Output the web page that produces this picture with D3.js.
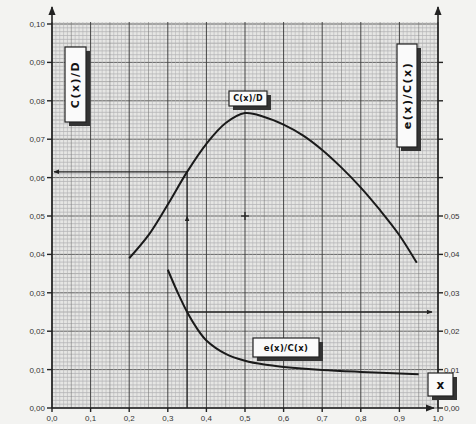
<!DOCTYPE html>
<html>
<head>
<meta charset="utf-8">
<script src="https://cdn.jsdelivr.net/npm/d3@7"></script>
<style>
  body { margin: 0; background: #f3f3f1; }
  svg { display: block; }
  .tick-label { font-family: "Liberation Sans", Arial, sans-serif; font-size: 8px; fill: #333; }
  .box-label { font-family: "DejaVu Sans", sans-serif; font-weight: bold; fill: #111; }
</style>
</head>
<body>
<div id="chart"></div>
<script>
// values
var xTicks = [0, 0.1, 0.2, 0.3, 0.4, 0.5, 0.6, 0.7, 0.8, 0.9, 1.0];
var leftTicks = [0, 0.01, 0.02, 0.03, 0.04, 0.05, 0.06, 0.07, 0.08, 0.09, 0.10];
var rightTicks = [0, 0.01, 0.02, 0.03, 0.04, 0.05, 0.06, 0.07, 0.08, 0.09];
var rightLabelled = [0, 0.01, 0.02, 0.03, 0.04, 0.05];

// C(x)/D curve
var cdX = [0.2, 0.25, 0.3, 0.35, 0.4, 0.45, 0.5, 0.55, 0.6, 0.65, 0.7, 0.75, 0.8, 0.85, 0.9, 0.945];
var cdY = [0.039, 0.045, 0.053, 0.0615, 0.0688, 0.0742, 0.0768, 0.0758, 0.0738, 0.071, 0.0672, 0.0626, 0.0574, 0.0515, 0.045, 0.0378];

// e(x)/C(x) curve
var ecX = [0.3, 0.325, 0.35, 0.375, 0.4, 0.45, 0.5, 0.55, 0.6, 0.7, 0.8, 0.9, 0.95];
var ecY = [0.036, 0.0302, 0.025, 0.0208, 0.0176, 0.0141, 0.0123, 0.0113, 0.0107, 0.0099, 0.0094, 0.009, 0.0088];

// construction lines: read-off at x = 0.35
var readX = 0.35;
var readCD = 0.0615;
var readEC = 0.025;

var width = 476, height = 424;
var padL = 52, padR = 438, padT = 24, padB = 408;

var x = d3.scaleLinear().domain([0, 1]).range([padL, padR]);
var y = d3.scaleLinear().domain([0, 0.1]).range([padB, padT]);

var svg = d3.select("#chart").append("svg")
    .attr("width", width).attr("height", height);

var defs = svg.append("defs");
defs.append("marker").attr("id", "arr")
    .attr("viewBox", "0 0 10 10").attr("refX", 9).attr("refY", 5)
    .attr("markerWidth", 6).attr("markerHeight", 6).attr("orient", "auto")
    .attr("markerUnits", "userSpaceOnUse")
  .append("path").attr("d", "M0,1 L10,5 L0,9 Z").attr("fill", "#222");
defs.append("marker").attr("id", "arrBig")
    .attr("viewBox", "0 0 10 10").attr("refX", 9).attr("refY", 5)
    .attr("markerWidth", 9).attr("markerHeight", 9).attr("orient", "auto")
    .attr("markerUnits", "userSpaceOnUse")
  .append("path").attr("d", "M0,1 L10,5 L0,9 Z").attr("fill", "#222");

// graph paper
var paper = svg.append("g");
paper.append("rect")
    .attr("x", padL).attr("y", padT - 2)
    .attr("width", padR - padL).attr("height", padB - padT + 2)
    .attr("fill", "#e6e6e4");

// horizontal rulings, every 0.001
d3.range(0, 101).forEach(function(i) {
  var v = i / 1000;
  var strong = i % 10 === 0, mid = i % 5 === 0;
  paper.append("line")
      .attr("x1", padL).attr("x2", padR)
      .attr("y1", y(v)).attr("y2", y(v))
      .attr("stroke", strong ? "#555" : (mid ? "#888" : "#a4a4a8"))
      .attr("stroke-width", strong ? 0.9 : 0.6);
});
// vertical rulings, every 0.01
d3.range(0, 101).forEach(function(i) {
  var v = i / 100;
  var strong = i % 10 === 0, mid = i % 5 === 0;
  paper.append("line")
      .attr("x1", x(v)).attr("x2", x(v))
      .attr("y1", padT - 2).attr("y2", padB)
      .attr("stroke", strong ? "#444" : (mid ? "#7a7a7a" : "#b4b4b6"))
      .attr("stroke-width", strong ? 1 : 0.6);
});

// axes
var axes = svg.append("g").attr("stroke", "#222").attr("stroke-width", 1.6);
axes.append("line").attr("x1", padL).attr("x2", padL).attr("y1", padB).attr("y2", 7)
    .attr("marker-end", "url(#arrBig)");
axes.append("line").attr("x1", padR).attr("x2", padR).attr("y1", padB).attr("y2", 7)
    .attr("marker-end", "url(#arrBig)");
axes.append("line").attr("x1", padL).attr("x2", padR - 4).attr("y1", padB).attr("y2", padB)
    .attr("marker-end", "url(#arrBig)");

// left ticks
leftTicks.forEach(function(v) {
  svg.append("line").attr("x1", padL - 5).attr("x2", padL)
      .attr("y1", y(v)).attr("y2", y(v))
      .attr("stroke", "#222").attr("stroke-width", 1.4);
  svg.append("text").attr("class", "tick-label")
      .attr("x", padL - 7).attr("y", y(v) + 3)
      .attr("text-anchor", "end")
      .text(d3.format(".2f")(v).replace(".", ","));
});
// right ticks
rightTicks.forEach(function(v) {
  svg.append("line").attr("x1", padR).attr("x2", padR + 5)
      .attr("y1", y(v)).attr("y2", y(v))
      .attr("stroke", "#222").attr("stroke-width", 1.4);
});
rightLabelled.forEach(function(v) {
  svg.append("text").attr("class", "tick-label")
      .attr("x", padR + 6).attr("y", y(v) + 3)
      .text(d3.format(".2f")(v).replace(".", ","));
});
// bottom ticks
xTicks.forEach(function(v) {
  svg.append("line").attr("x1", x(v)).attr("x2", x(v))
      .attr("y1", padB).attr("y2", padB + 4)
      .attr("stroke", "#222").attr("stroke-width", 1.4);
  svg.append("text").attr("class", "tick-label")
      .attr("x", x(v)).attr("y", padB + 13)
      .attr("text-anchor", "middle")
      .text(d3.format(".1f")(v).replace(".", ","));
});

// construction lines
var cons = svg.append("g").attr("stroke", "#222").attr("stroke-width", 1.3).attr("fill", "none");
cons.append("line").attr("x1", x(readX)).attr("x2", x(0) + 2)
    .attr("y1", y(readCD)).attr("y2", y(readCD)).attr("marker-end", "url(#arr)");
cons.append("line").attr("x1", x(readX)).attr("x2", x(readX))
    .attr("y1", y(0)).attr("y2", y(0.05)).attr("marker-end", "url(#arr)");
cons.append("line").attr("x1", x(readX)).attr("x2", x(readX))
    .attr("y1", y(0.05)).attr("y2", y(readCD));
cons.append("line").attr("x1", x(readX)).attr("x2", x(1) - 6)
    .attr("y1", y(readEC)).attr("y2", y(readEC)).attr("marker-end", "url(#arr)");
// small cross at (0.5, 0.05)
cons.append("line").attr("x1", x(0.5) - 4).attr("x2", x(0.5) + 4)
    .attr("y1", y(0.05)).attr("y2", y(0.05));
cons.append("line").attr("x1", x(0.5)).attr("x2", x(0.5))
    .attr("y1", y(0.05) - 4).attr("y2", y(0.05) + 4);

// curves
var line = d3.line()
    .x(function(d) { return x(d[0]); })
    .y(function(d) { return y(d[1]); })
    .curve(d3.curveCatmullRom.alpha(0.5));

svg.append("path")
    .datum(d3.zip(cdX, cdY))
    .attr("d", line)
    .attr("fill", "none").attr("stroke", "#1a1a1a").attr("stroke-width", 2);

svg.append("path")
    .datum(d3.zip(ecX, ecY))
    .attr("d", line)
    .attr("fill", "none").attr("stroke", "#1a1a1a").attr("stroke-width", 2);

// labelled boxes with a drop shadow
function box(bx, by, bw, bh, label, size, rotate) {
  var g = svg.append("g");
  g.append("rect").attr("x", bx + 4).attr("y", by + 4).attr("width", bw).attr("height", bh)
      .attr("fill", "#333");
  g.append("rect").attr("x", bx).attr("y", by).attr("width", bw).attr("height", bh)
      .attr("fill", "#fafafa").attr("stroke", "#222").attr("stroke-width", 1.2);
  var cx = bx + bw / 2, cy = by + bh / 2;
  g.append("text").attr("class", "box-label")
      .attr("x", cx).attr("y", cy)
      .attr("text-anchor", "middle").attr("dominant-baseline", "central")
      .attr("font-size", size)
      .attr("letter-spacing", rotate ? 1.5 : 0.3)
      .attr("transform", rotate ? "rotate(-90," + cx + "," + cy + ")" : null)
      .text(label);
}

box(65, 47, 21, 75, "C(x)/D", 11, true);
box(397, 44, 20, 103, "e(x)/C(x)", 11, true);
box(229, 91, 38, 15, "C(x)/D", 8, false);
box(253, 338, 66, 19, "e(x)/C(x)", 8.5, false);
box(428, 373, 25, 23, "x", 12, false);
</script>
</body>
</html>
